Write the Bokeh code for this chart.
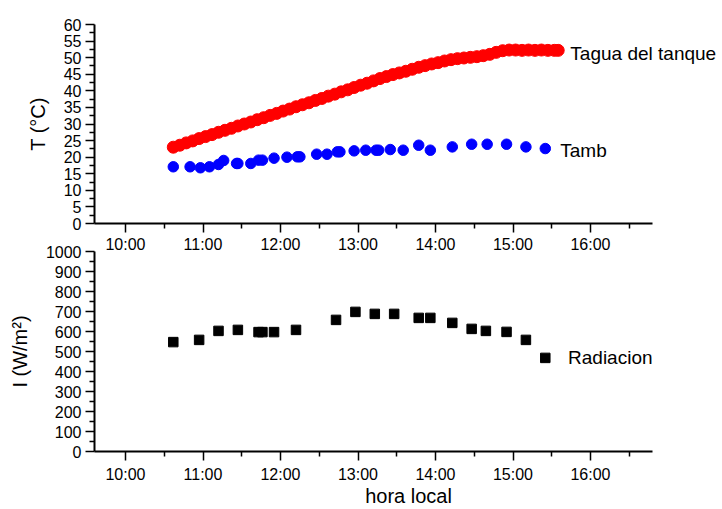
from bokeh.plotting import figure
from bokeh.layouts import column
from bokeh.models import FixedTicker, Label, Range1d
from bokeh.embed import file_html
from bokeh.resources import INLINE

# ---------------- data ----------------
agua_time = ["10:37", "10:42", "10:47", "10:52", "10:57", "11:02", "11:07", "11:12", "11:17", "11:22",
             "11:27", "11:32", "11:37", "11:42", "11:47", "11:52", "11:57", "12:02", "12:07", "12:12",
             "12:17", "12:22", "12:27", "12:32", "12:37", "12:42", "12:47", "12:52", "12:57", "13:02",
             "13:07", "13:12", "13:17", "13:22", "13:27", "13:32", "13:37", "13:42", "13:47", "13:52",
             "13:57", "14:02", "14:07", "14:12", "14:17", "14:22", "14:27", "14:32", "14:37", "14:42",
             "14:47", "14:52", "14:57", "15:02", "15:07", "15:12", "15:17", "15:22", "15:27", "15:32",
             "15:35"]
agua_temp = [23.0, 23.6, 24.3, 24.9, 25.6, 26.2, 26.8, 27.5, 28.1, 28.7,
             29.4, 30.0, 30.6, 31.3, 31.9, 32.6, 33.2, 33.9, 34.5, 35.2,
             35.8, 36.4, 37.1, 37.7, 38.4, 39.0, 39.7, 40.3, 41.0, 41.7,
             42.3, 43.0, 43.7, 44.3, 44.9, 45.4, 45.9, 46.5, 47.1, 47.6,
             48.1, 48.5, 49.0, 49.4, 49.7, 49.9, 50.1, 50.3, 50.6, 51.0,
             51.6, 52.1, 52.3, 52.3, 52.2, 52.3, 52.2, 52.3, 52.2, 52.2,
             52.2]

amb_time = ["10:37", "10:50", "10:58", "11:05", "11:12", "11:16", "11:26", "11:27", "11:37", "11:43",
            "11:46", "11:55", "12:05", "12:13", "12:15", "12:28", "12:36", "12:44", "12:46", "12:57",
            "13:06", "13:14", "13:16", "13:25", "13:35", "13:47", "13:56", "14:13", "14:28", "14:40",
            "14:55", "15:10", "15:25"]
amb_temp = [17.1, 17.1, 16.8, 17.1, 17.8, 19.0, 18.1, 18.1, 18.1, 19.1,
            19.1, 19.7, 20.0, 20.1, 20.1, 20.9, 20.9, 21.6, 21.6, 21.9,
            22.1, 22.1, 22.1, 22.3, 22.1, 23.6, 22.1, 23.1, 23.9, 23.9,
            23.9, 23.1, 22.6]

rad_time = ["10:37", "10:57", "11:12", "11:27", "11:43", "11:46", "11:55", "12:12", "12:43", "12:58",
            "13:13", "13:28", "13:47", "13:56", "14:13", "14:28", "14:39", "14:55", "15:10", "15:25"]
rad_value = [547, 558, 603, 608, 597, 597, 597, 608, 658, 698,
             688, 688, 668, 668, 643, 613, 603, 598, 558, 468]

hour_ticks = [10, 11, 12, 13, 14, 15, 16]
hour_labels = ["10:00", "11:00", "12:00", "13:00", "14:00", "15:00", "16:00"]
t_ticks = [0, 5, 10, 15, 20, 25, 30, 35, 40, 45, 50, 55, 60]
i_ticks = [0, 100, 200, 300, 400, 500, 600, 700, 800, 900, 1000]

series_names = ["Tagua del tanque", "Tamb", "Radiacion"]


def hours(s):
    h, m = s.split(":")
    return int(h) + int(m) / 60.0


FONT = "Liberation Sans"
X_START, X_AXIS_END = 9.6, 16.8
PX_PER_HOUR = 77.5
X_END = X_START + (722 - 94) / PX_PER_HOUR   # frame reaches the right edge; axis stops at 16:48

hour_minor = [h + 0.5 for h in hour_ticks]
t_minor = [t + 2.5 for t in t_ticks[:-1]]
i_minor = [t + 50 for t in i_ticks[:-1]]
overrides = {h: lab for h, lab in zip(hour_ticks, hour_labels)}

TOP_H = 258      # top panel canvas (frame 24..223 + tick labels)
OVERLAP = 25     # bottom canvas slides up under the top one's label strip


def style_axis(ax, size="16px"):
    ax.axis_line_width = 2
    ax.axis_line_color = "black"
    ax.major_tick_line_width = 1.5
    ax.minor_tick_line_width = 1.5
    ax.major_tick_line_color = "black"
    ax.minor_tick_line_color = "black"
    ax.major_tick_in = 0
    ax.major_tick_out = 9
    ax.minor_tick_in = 0
    ax.minor_tick_out = 5
    ax.major_label_text_font = FONT
    ax.major_label_text_font_size = size
    ax.major_label_text_color = "black"
    ax.axis_label_text_font = FONT
    ax.axis_label_text_font_style = "normal"
    ax.axis_label_text_font_size = "20px"
    ax.axis_label_text_color = "black"


# ---------------- top panel ----------------
p1 = figure(width=722, height=TOP_H, x_range=Range1d(X_START, X_END), y_range=Range1d(0, 60),
            output_backend="svg", toolbar_location=None,
            min_border_left=94, min_border_right=0, min_border_top=24,
            min_border_bottom=TOP_H - 223)
p1.grid.visible = False
p1.outline_line_color = None
p1.background_fill_color = "white"
p1.border_fill_color = "white"

xa1 = p1.below[0]
style_axis(xa1)
xa1.ticker = FixedTicker(ticks=hour_ticks, minor_ticks=hour_minor)
xa1.bounds = (X_START, X_AXIS_END)
xa1.major_label_overrides = overrides
xa1.major_label_standoff = 3

ya1 = p1.left[0]
style_axis(ya1)
ya1.ticker = FixedTicker(ticks=t_ticks, minor_ticks=t_minor)
ya1.major_label_standoff = 4
ya1.axis_label = "T (°C)"
ya1.axis_label_standoff = 12

p1.scatter([hours(t) for t in agua_time], agua_temp, marker="circle", size=12,
           fill_color="#ff0000", line_color="#ff0000")
p1.scatter([hours(t) for t in amb_time], amb_temp, marker="circle", size=10.5,
           fill_color="#0000ff", line_color="#0000ff")

p1.add_layout(Label(x=15.74, y=51.2, text=series_names[0], text_font=FONT, text_font_size="19px",
                    text_baseline="alphabetic", text_color="black"))
p1.add_layout(Label(x=15.61, y=21.9, text=series_names[1], text_font=FONT, text_font_size="19px",
                    text_baseline="alphabetic", text_color="black"))

# ---------------- bottom panel ----------------
p2 = figure(width=722, height=509 - TOP_H + OVERLAP, x_range=p1.x_range, y_range=Range1d(0, 1000),
            output_backend="svg", toolbar_location=None,
            min_border_left=94, min_border_right=0, min_border_top=18, min_border_bottom=58,
            margin=(-OVERLAP, 0, 0, 0))
p2.grid.visible = False
p2.outline_line_color = None
p2.background_fill_color = None
p2.border_fill_color = None

xa2 = p2.below[0]
style_axis(xa2)
xa2.ticker = FixedTicker(ticks=hour_ticks, minor_ticks=hour_minor)
xa2.bounds = (X_START, X_AXIS_END)
xa2.major_label_overrides = overrides
xa2.major_label_standoff = 5
xa2.axis_label = "hora local"
xa2.axis_label_standoff = -1

ya2 = p2.left[0]
style_axis(ya2)
ya2.ticker = FixedTicker(ticks=i_ticks, minor_ticks=i_minor)
ya2.major_label_standoff = 4
ya2.axis_label = "I (W/m²)"
ya2.axis_label_standoff = 12

p2.scatter([hours(t) for t in rad_time], rad_value, marker="square", size=9.5,
           fill_color="black", line_color="black")
p2.add_layout(Label(x=15.71, y=468, text=series_names[2], text_font=FONT, text_font_size="19px",
                    text_baseline="alphabetic", text_color="black"))

layout = column(p1, p2, spacing=0)
open("out.html", "w").write(file_html(layout, INLINE))
